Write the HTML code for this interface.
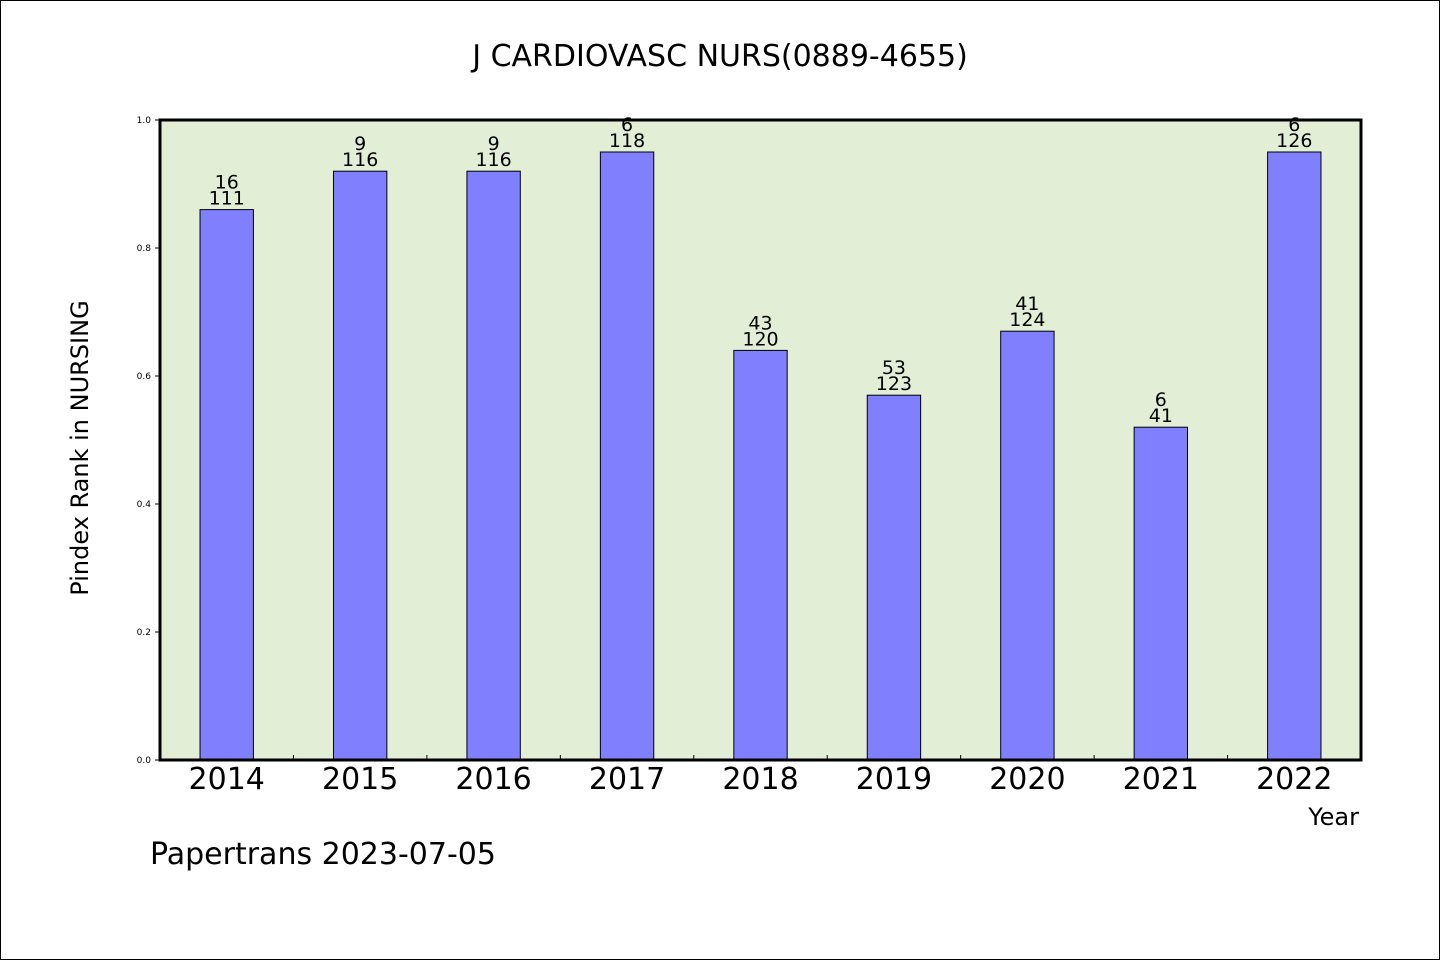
<!DOCTYPE html>
<html><head><meta charset="utf-8"><style>
html,body{margin:0;padding:0;background:#fff}
svg{display:block}
text{font-family:"DejaVu Sans","Liberation Sans",sans-serif;fill:#000}
</style></head><body>
<svg id="chart" width="1440" height="960" xmlns="http://www.w3.org/2000/svg">
<rect x="0.5" y="0.5" width="1439" height="959" fill="#fff" stroke="#000"/>
<text x="720" y="66" font-size="30" text-anchor="middle">J CARDIOVASC NURS(0889-4655)</text>
<rect x="160" y="120" width="1201" height="640" fill="#e2efd6"/>
<g id="bars"></g>
<rect x="160" y="120" width="1201" height="640" fill="none" stroke="#000" stroke-width="3"/>
<text transform="translate(88,448) rotate(-90)" font-size="24" text-anchor="middle">Pindex Rank in NURSING</text>
<text x="1359" y="825" font-size="24" text-anchor="end">Year</text>
<text x="150" y="864" font-size="30">Papertrans 2023-07-05</text>
</svg>
<script>
const years=["2014","2015","2016","2017","2018","2019","2020","2021","2022"];
const pindex=[0.86,0.92,0.92,0.95,0.64,0.57,0.67,0.52,0.95];
const ranks=["16","9","9","6","43","53","41","6","6"];
const totals=["111","116","116","118","120","123","124","41","126"];
const yTicks=[0.0,0.2,0.4,0.6,0.8,1.0];
const L=160,R=1361,T=120,B=760;
const band=(R-L)/years.length;
const xC=i=>L+band*(i+0.5);
const yS=v=>B-(v-0)/(1-0)*(B-T);
const NS="http://www.w3.org/2000/svg";
const g=document.getElementById('bars');
function mk(tag,attrs,txt){const e=document.createElementNS(NS,tag);for(const k in attrs)e.setAttribute(k,attrs[k]);if(txt!==undefined)e.textContent=txt;g.appendChild(e);return e;}
const bw=band*0.4;
years.forEach((y,i)=>{
  const v=pindex[i];
  const b=mk('rect',{x:xC(i)-bw/2,y:yS(v),width:bw,height:B-yS(v),fill:'#8080ff',stroke:'#000','stroke-width':1});
  
  
  const t1=mk('text',{x:xC(i),y:yS(v)-21,'font-size':19,'text-anchor':'middle'},ranks[i]);
  
  
  const t2=mk('text',{x:xC(i),y:yS(v)-5,'font-size':19,'text-anchor':'middle'},totals[i]);
  
  
  const xl=mk('text',{x:xC(i),y:789,'font-size':30,'text-anchor':'middle'},y);
  
  
  if(i>0){
    const tk=mk('line',{x1:L+band*i,x2:L+band*i,y1:B,y2:B-5,stroke:'#000','stroke-width':1});
    
    
  }
});
yTicks.forEach(v=>{
  const tl=mk('text',{x:151,y:yS(v)+3,'font-size':9,'text-anchor':'end'},v.toFixed(1));
  
  
  const tk=mk('line',{x1:L-5,x2:L,y1:yS(v),y2:yS(v),stroke:'#000','stroke-width':1});
  
  
});
</script>
</body></html>
